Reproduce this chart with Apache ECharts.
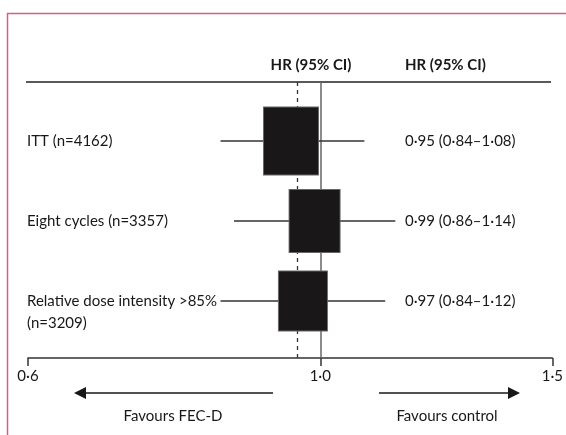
<!DOCTYPE html>
<html><head><meta charset="utf-8">
<script src="https://cdn.jsdelivr.net/npm/echarts@6/dist/echarts.min.js"></script>
<style>html,body{margin:0;padding:0;background:#fff}#c{width:566px;height:435px}</style>
</head><body><div id="c"></div>
<script>
// ---- data ----
const categories = ['ITT (n=4162)', 'Eight cycles (n=3357)', 'Relative dose intensity >85%\n(n=3209)'];
const hrValues = [0.95, 0.99, 0.97];
const ciLow = [0.84, 0.86, 0.84];
const ciHigh = [1.08, 1.14, 1.12];
const pooledHR = 0.96;
const xTicks = [0.6, 1.0, 1.5];
const headers = ['HR (95% CI)', 'HR (95% CI)'];
const directionLabels = ['Favours FEC-D', 'Favours control'];

// ---- style ----
const FONT = 'Lato';
const FS = 15;
const INK = '#1a1718';
const boxSizes = [[55, 68], [51, 63], [49, 60]];
const fmt = v => v.toFixed(2).replace('.', '\u00b7');

const chart = echarts.init(document.getElementById('c'), null, {renderer: 'canvas'});

const ciData = categories.map((c, i) => [ciLow[i], ciHigh[i], i]);
const boxData = hrValues.map((v, i) => [v, i]);

chart.setOption({
  animation: false,
  backgroundColor: '#fff',
  grid: {left: 28, right: 13, top: 82, bottom: 77, containLabel: false},
  xAxis: {
    type: 'log', logBase: 10, min: xTicks[0], max: xTicks[xTicks.length - 1],
    axisLine: {show: true, onZero: false, lineStyle: {color: '#333', width: 1.5}},
    axisTick: {show: true, length: 8, lineStyle: {color: '#333', width: 1.5}},
    axisLabel: {
      show: true, margin: 11, color: INK, fontFamily: FONT, fontSize: FS,
      showMinLabel: true, showMaxLabel: true,
      formatter: v => v.toFixed(1).replace('.', '\u00b7')
    },
    splitLine: {show: false}, minorTick: {show: false}
  },
  yAxis: {type: 'value', inverse: true, min: -0.7375, max: 2.7125, show: false},
  series: [
    {
      type: 'custom', z: 2,
      data: ciData,
      encode: {x: [0, 1], y: 2},
      renderItem: (params, api) => {
        const i = api.value(2);
        const p0 = api.coord([api.value(0), i]);
        const p1 = api.coord([api.value(1), i]);
        const left = api.coord([xTicks[0], i]);
        return {
          type: 'group',
          children: [
            {type: 'line', shape: {x1: p0[0], y1: p0[1], x2: p1[0], y2: p1[1]},
             style: {stroke: '#333', lineWidth: 1.5}},
            {type: 'text', x: left[0] - 1, y: p0[1] - 11,
             style: {text: categories[i], fill: INK, font: FS + 'px ' + FONT,
                     textAlign: 'left', textVerticalAlign: 'top', lineHeight: 22}},
            {type: 'text', x: 405, y: p0[1],
             style: {text: fmt(hrValues[i]) + ' (' + fmt(ciLow[i]) + '\u2013' + fmt(ciHigh[i]) + ')',
                     fill: INK, font: FS + 'px ' + FONT, textAlign: 'left', textVerticalAlign: 'middle'}}
          ]
        };
      },
      markLine: {
        silent: true, symbol: 'none', z: 1,
        label: {show: false},
        data: [
          {xAxis: 1, lineStyle: {color: '#666', width: 1.5, type: 'solid'}},
          {xAxis: pooledHR, lineStyle: {color: '#333', width: 1.3, type: [4, 4]}}
        ]
      }
    },
    {
      type: 'scatter', z: 3,
      data: boxData,
      symbol: 'rect',
      symbolSize: (val, params) => boxSizes[params.dataIndex],
      itemStyle: {color: INK, borderColor: '#666', borderWidth: 1, opacity: 1}
    }
  ],
  graphic: [
    {type: 'line', shape: {x1: 7, y1: 13.5, x2: 566, y2: 13.5}, style: {stroke: '#d8607f', lineWidth: 1.5}},
    {type: 'line', shape: {x1: 7.5, y1: 13, x2: 7.5, y2: 435}, style: {stroke: '#d8607f', lineWidth: 1.5}},
    {type: 'line', shape: {x1: 26, y1: 82, x2: 551, y2: 82}, style: {stroke: '#222', lineWidth: 1.5}},
    {type: 'text', x: 311, y: 65, style: {text: headers[0], fill: INK, font: 'bold ' + FS + 'px ' + FONT, textAlign: 'center', textVerticalAlign: 'middle'}},
    {type: 'text', x: 405, y: 65, style: {text: headers[1], fill: INK, font: 'bold ' + FS + 'px ' + FONT, textAlign: 'left', textVerticalAlign: 'middle'}},
    {type: 'line', shape: {x1: 273, y1: 393, x2: 84, y2: 393}, style: {stroke: INK, lineWidth: 1.5}},
    {type: 'polygon', shape: {points: [[74, 393], [86, 387], [86, 399]]}, style: {fill: INK}},
    {type: 'line', shape: {x1: 379, y1: 393, x2: 510, y2: 393}, style: {stroke: INK, lineWidth: 1.5}},
    {type: 'polygon', shape: {points: [[520, 393], [508, 387], [508, 399]]}, style: {fill: INK}},
    {type: 'text', x: 173, y: 416, style: {text: directionLabels[0], fill: INK, font: FS + 'px ' + FONT, textAlign: 'center', textVerticalAlign: 'middle'}},
    {type: 'text', x: 447, y: 416, style: {text: directionLabels[1], fill: INK, font: FS + 'px ' + FONT, textAlign: 'center', textVerticalAlign: 'middle'}}
  ]
});
</script>
</body></html>
